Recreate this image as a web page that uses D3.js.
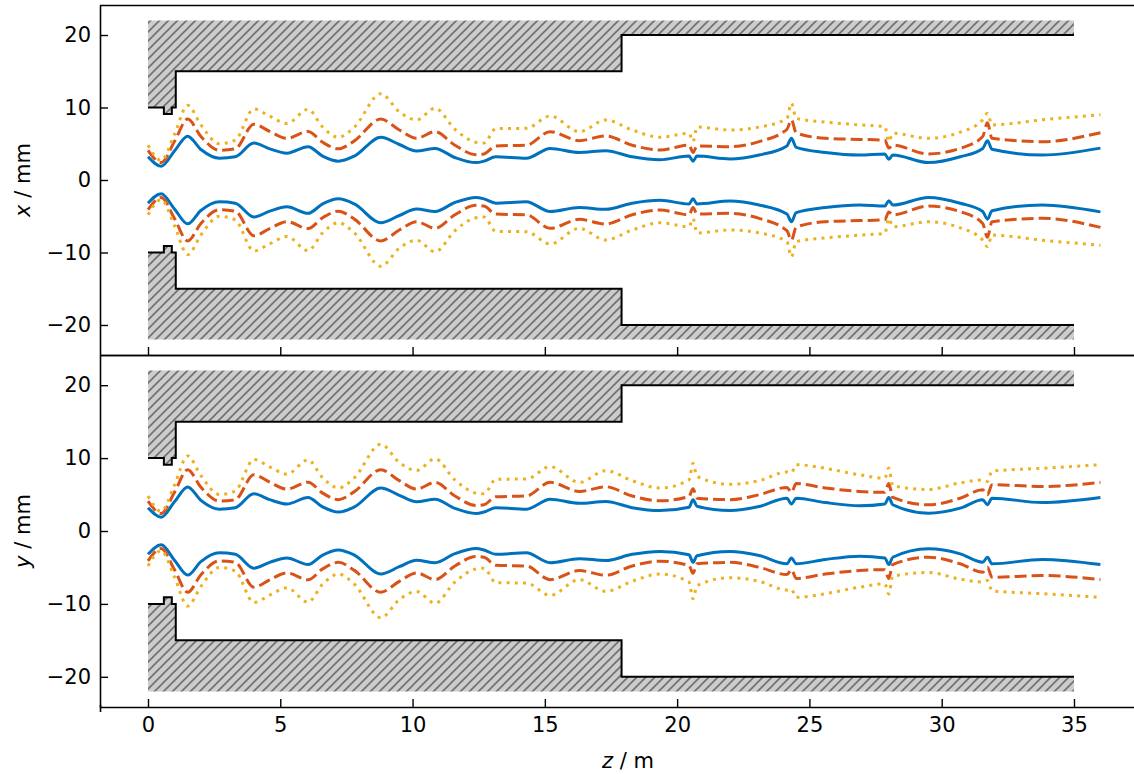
<!DOCTYPE html>
<html>
<head>
<meta charset="utf-8">
<script src="https://cdn.jsdelivr.net/npm/d3@7"></script>
<style>
body { margin: 0; background: #fff; }
svg { display: block; font-family: "DejaVu Sans", sans-serif; }
</style>
</head>
<body>
<svg id="fig" width="1134" height="774"></svg>
<script>

//------------------- data (mm, m) ----------------------------------------
const zTicks = [0, 5, 10, 15, 20, 25, 30, 35];
const rTicks = [-20, -10, 0, 10, 20];

// aperture profile (upper half, mirrored for lower)
const apZ = [0, 0.6, 0.6, 0.9, 0.9, 1.05, 1.05, 17.9, 17.9, 35];
const apR = [10, 10, 9.1, 9.1, 10, 10, 15, 15, 20, 20];
const wallR = 22;

// beam envelope half-widths along z
const zKnots = [0, 0.5, 1.0, 1.5, 2.0, 2.7, 3.3, 4.0, 4.6, 5.25,
    6.05, 6.6, 7.2, 7.8, 8.8, 9.5, 10.15, 10.85, 11.6, 12.4,
    12.7, 13.15, 14.3, 15.2, 16.3, 17.3, 18.3, 19.35, 20.45, 20.6,
    20.75, 22.0, 23.1, 24.15, 24.32, 24.5, 25.6, 26.9, 27.85, 28.0,
    28.15, 29.5, 30.7, 31.55, 31.73, 31.9, 33.8, 36.0];

const xBlue = [3.2, 1.9, 4.0, 6.05, 4.2, 3.0, 3.2, 5.1, 4.3, 3.7,
    4.6, 3.3, 2.6, 3.3, 5.9, 4.9, 4.0, 4.35, 3.1, 2.4,
    2.6, 3.2, 3.0, 4.35, 3.8, 4.05, 3.2, 2.8, 3.3, 2.6,
    3.3, 2.9, 3.45, 4.7, 5.75, 4.5, 3.8, 3.45, 3.6, 2.85,
    3.45, 2.4, 3.2, 4.35, 5.4, 4.25, 3.45, 4.4];
const xOrange = [4.1, 2.4, 5.3, 8.4, 6.0, 4.1, 4.3, 7.7, 6.7, 5.75,
    6.7, 5.2, 4.3, 5.4, 8.4, 6.9, 5.75, 6.67, 4.8, 3.5,
    3.6, 4.7, 4.8, 6.67, 5.43, 6.07, 4.8, 4.14, 4.8, 3.8,
    4.7, 4.6, 5.3, 7.0, 8.3, 6.5, 5.75, 5.6, 5.5, 4.4,
    4.8, 3.6, 4.37, 6.0, 7.9, 5.75, 5.29, 6.53];
const xYellow = [4.8, 2.7, 6.3, 10.3, 7.6, 5.0, 5.5, 9.8, 8.8, 7.8,
    9.75, 7.3, 5.9, 7.3, 11.9, 9.4, 8.3, 9.9, 7.0, 5.2,
    5.1, 7.1, 7.13, 8.83, 6.67, 8.28, 6.9, 5.9, 6.44, 5.3,
    7.3, 6.9, 7.3, 8.5, 10.6, 8.5, 8.0, 7.6, 7.36, 5.3,
    6.44, 5.75, 6.6, 8.3, 9.2, 7.6, 8.3, 9.0];

const yBlue = [3.2, 1.9, 4.0, 6.05, 4.2, 3.0, 3.2, 5.1, 4.3, 3.7,
    4.6, 3.3, 2.6, 3.3, 5.9, 4.9, 4.0, 4.35, 3.1, 2.4,
    2.6, 3.2, 3.0, 4.35, 3.8, 4.05, 3.2, 2.8, 3.26, 4.3,
    3.4, 2.8, 3.36, 4.5, 3.7, 4.5, 3.9, 3.45, 3.7, 4.6,
    3.6, 2.44, 3.13, 4.28, 3.6, 4.5, 3.9, 4.6];
const yOrange = [4.1, 2.4, 5.3, 8.4, 6.0, 4.1, 4.3, 7.7, 6.7, 5.75,
    6.7, 5.2, 4.3, 5.4, 8.4, 6.9, 5.75, 6.67, 4.8, 3.5,
    3.6, 4.7, 4.8, 6.67, 5.43, 6.07, 4.8, 4.14, 4.74, 5.8,
    4.5, 4.3, 4.97, 5.98, 5.3, 6.5, 5.9, 5.43, 5.3, 6.5,
    4.6, 3.6, 4.5, 5.66, 4.97, 6.34, 6.11, 6.67];
const yYellow = [4.8, 2.7, 6.3, 10.3, 7.6, 5.0, 5.5, 9.8, 8.8, 7.8,
    9.75, 7.3, 5.9, 7.3, 11.9, 9.4, 8.3, 9.9, 7.0, 5.2,
    5.1, 7.1, 7.13, 8.83, 6.67, 8.28, 6.9, 5.9, 7.0, 9.3,
    7.5, 6.4, 6.9, 8.1, 8.0, 9.1, 8.6, 7.7, 7.26, 8.64,
    6.2, 5.7, 6.6, 7.0, 6.8, 8.2, 8.6, 9.1];

//------------------- drawing ----------------------------------------------
const svg = d3.select("#fig");
const x = d3.scaleLinear().domain([-1.814, 38.1]).range([100, 1156]);

// hatch pattern ///
const defs = svg.append("defs");
const pat = defs.append("pattern").attr("id", "hatch")
    .attr("patternUnits", "userSpaceOnUse").attr("width", 9).attr("height", 9);
pat.append("rect").attr("width", 9).attr("height", 9).attr("fill", "#cccccc");
pat.append("path").attr("d", "M-1,1 l2,-2 M0,9 l9,-9 M8,10 l2,-2")
    .attr("stroke", "#707070").attr("stroke-width", 1.6);

function panel(top, bottom, blue, orange, yellow, letter, withLabels) {
    var y = d3.scaleLinear().domain([-24.14, 24.14]).range([bottom, top]);
    var g = svg.append("g");

    [1, -1].forEach(function (s) {
        var pts = apZ.map(function (z, i) { return [x(z), y(s * apR[i])]; });
        var wall = pts.concat([[x(apZ[apZ.length - 1]), y(s * wallR)], [x(apZ[0]), y(s * wallR)]]);
        g.append("path").attr("d", "M" + wall.join("L") + "Z").attr("fill", "url(#hatch)");
        g.append("path").attr("d", d3.line()(pts))
            .attr("fill", "none").attr("stroke", "#000").attr("stroke-width", 2);
    });

    var series = [
        { v: blue, color: "#0072BD", dash: null },
        { v: orange, color: "#D95319", dash: "12,5" },
        { v: yellow, color: "#EDB120", dash: "3,5.2" }
    ];
    var line = d3.line().curve(d3.curveMonotoneX)
        .x(function (d) { return x(d[0]); })
        .y(function (d) { return y(d[1]); });

    series.forEach(function (s) {
        [1, -1].forEach(function (sign) {
            var pts = zKnots.map(function (z, i) { return [z, sign * s.v[i]]; });
            g.append("path").attr("d", line(pts))
                .attr("fill", "none").attr("stroke", s.color).attr("stroke-width", 3)
                .attr("stroke-dasharray", s.dash).attr("stroke-linejoin", "round");
        });
    });

    // axes, ticks pointing in
    g.append("g").attr("transform", "translate(100,0)")
        .call(d3.axisLeft(y).tickValues(rTicks).tickSize(-8).tickSizeOuter(0).tickPadding(9));
    var xa = g.append("g").attr("transform", "translate(0," + bottom + ")")
        .call(d3.axisBottom(x).tickValues(zTicks).tickSize(-8).tickSizeOuter(0).tickPadding(10));
    if (!withLabels) xa.selectAll("text").remove();

    g.selectAll(".domain").attr("stroke-width", 1.6);
    g.selectAll(".tick line").attr("stroke-width", 1.4);
    g.selectAll(".tick text").attr("font-size", 21).attr("font-family", "DejaVu Sans").attr("fill", "#000");

    g.append("line").attr("x1", 100).attr("x2", 1156).attr("y1", top + 0.5).attr("y2", top + 0.5)
        .attr("stroke", "#000").attr("stroke-width", 1.6);

    var lab = g.append("text").attr("transform", "translate(30," + y(0) + ") rotate(-90)")
        .attr("text-anchor", "middle").attr("font-size", 21);
    lab.append("tspan").attr("font-style", "italic").text(letter);
    lab.append("tspan").text(" / mm");
}

panel(5, 355, xBlue, xOrange, xYellow, "x", false);
panel(355, 707, yBlue, yOrange, yYellow, "y", true);

svg.append("line").attr("x1", 100.5).attr("x2", 100.5).attr("y1", 705).attr("y2", 712)
    .attr("stroke", "#000").attr("stroke-width", 1.6);

var zl = svg.append("text").attr("x", 628).attr("y", 768)
    .attr("text-anchor", "middle").attr("font-size", 21);
zl.append("tspan").attr("font-style", "italic").text("z");
zl.append("tspan").text(" / m");

</script>
</body>
</html>
